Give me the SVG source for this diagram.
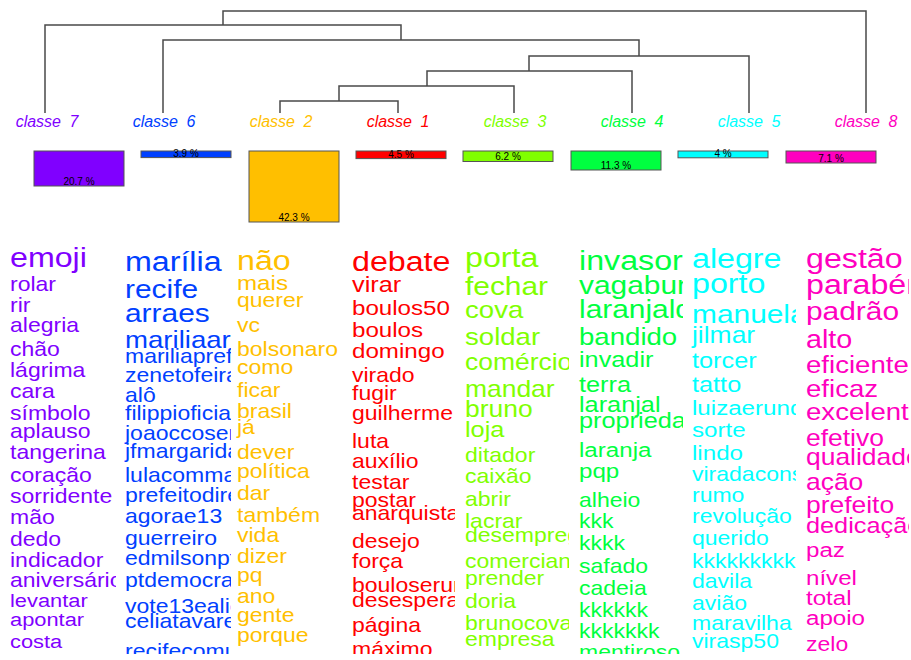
<svg xmlns="http://www.w3.org/2000/svg" width="911" height="660" viewBox="0 0 911 660">
<style>
text{font-family:"Liberation Sans",Arial,sans-serif}
.lbl{font-size:16px;font-style:italic;text-anchor:middle;word-spacing:4px}
.pct{font-size:10px;text-anchor:middle;fill:#000}
.bar{stroke:#555;stroke-width:1}
.k1{fill:#FF0000}.k2{fill:#FFBF00}.k3{fill:#80FF00}.k4{fill:#00FF40}
.k5{fill:#00FFFF}.k6{fill:#0040FF}.k7{fill:#8000FF}.k8{fill:#FF00BF}
.den{fill:none;stroke:#4a4a4a;stroke-width:1.5}
</style>
<defs>
<clipPath id="cp7"><rect x="8" y="235" width="108" height="419"/></clipPath>
<clipPath id="cp6"><rect x="123" y="235" width="108" height="419"/></clipPath>
<clipPath id="cp2"><rect x="235" y="235" width="108" height="419"/></clipPath>
<clipPath id="cp1"><rect x="350" y="235" width="105" height="419"/></clipPath>
<clipPath id="cp3"><rect x="463" y="235" width="106" height="419"/></clipPath>
<clipPath id="cp4"><rect x="577" y="235" width="106" height="419"/></clipPath>
<clipPath id="cp5"><rect x="690" y="235" width="106" height="419"/></clipPath>
<clipPath id="cp8"><rect x="804" y="235" width="105" height="419"/></clipPath>
</defs>
<rect width="911" height="660" fill="#fff"/>
<g id="connectors" class="den">
<path d="M223 25V11H866V113"/>
<path d="M45 113V25H401V40"/>
<path d="M163 113V40H639V56"/>
<path d="M749 113V56H529V71"/>
<path d="M632 113V71H427V86"/>
<path d="M514 113V86H339V101"/>
<path d="M280 113V101H398V113"/>
</g>
<g id="class7">
<text class="lbl k7" x="47" y="127">classe 7</text>
<rect class="bar k7" x="34" y="151" width="90" height="35"/>
<text class="pct" x="79" y="185">20.7 %</text>
<g clip-path="url(#cp7)"><g class="k7" transform="translate(10 0) scale(1.15 1)">
<text y="267" font-size="28">emoji</text>
<text y="291" font-size="20">rolar</text>
<text y="312" font-size="20">rir</text>
<text y="332" font-size="20">alegria</text>
<text y="356" font-size="20">chão</text>
<text y="377" font-size="20">lágrima</text>
<text y="398" font-size="20">cara</text>
<text y="420" font-size="20">símbolo</text>
<text y="438" font-size="20">aplauso</text>
<text y="459" font-size="20">tangerina</text>
<text y="482" font-size="20">coração</text>
<text y="503" font-size="20">sorridente</text>
<text y="524" font-size="20">mão</text>
<text y="546" font-size="20">dedo</text>
<text y="567" font-size="20">indicador</text>
<text y="587" font-size="20">aniversário</text>
<text y="607" font-size="19">levantar</text>
<text y="626" font-size="19">apontar</text>
<text y="648" font-size="19">costa</text>
</g></g>
</g>
<g id="class6">
<text class="lbl k6" x="164" y="127">classe 6</text>
<rect class="bar k6" x="141" y="151" width="90" height="6.6"/>
<text class="pct" x="186" y="157">3.9 %</text>
<g clip-path="url(#cp6)"><g class="k6" transform="translate(125 0) scale(1.15 1)">
<text y="271" font-size="28">marília</text>
<text y="298" font-size="26">recife</text>
<text y="322" font-size="26">arraes</text>
<text y="348" font-size="24">mariliaarraes</text>
<text y="363" font-size="20">mariliaprefeita</text>
<text y="382" font-size="20">zenetofeira</text>
<text y="402" font-size="20">alô</text>
<text y="420" font-size="20">filippioficial</text>
<text y="440" font-size="20">joaoccosentino</text>
<text y="458" font-size="20">jfmargarida</text>
<text y="482" font-size="20">lulacommander</text>
<text y="502" font-size="20">prefeitodireita</text>
<text y="523" font-size="20">agorae13</text>
<text y="545" font-size="20">guerreiro</text>
<text y="565" font-size="20">edmilsonpt</text>
<text y="587" font-size="20">ptdemocrata</text>
<text y="613" font-size="20">vote13ealice</text>
<text y="628" font-size="20">celiatavares</text>
<text y="658" font-size="20">recifecomunista</text>
</g></g>
</g>
<g id="class2">
<text class="lbl k2" x="281" y="127">classe 2</text>
<rect class="bar k2" x="249" y="151" width="90" height="71"/>
<text class="pct" x="294" y="221">42.3 %</text>
<g clip-path="url(#cp2)"><g class="k2" transform="translate(237 0) scale(1.15 1)">
<text y="270" font-size="28">não</text>
<text y="290" font-size="21">mais</text>
<text y="307" font-size="20">querer</text>
<text y="332" font-size="20">vc</text>
<text y="356" font-size="20">bolsonaro</text>
<text y="374" font-size="20">como</text>
<text y="397" font-size="20">ficar</text>
<text y="418" font-size="20">brasil</text>
<text y="434" font-size="20">já</text>
<text y="459" font-size="20">dever</text>
<text y="478" font-size="20">política</text>
<text y="500" font-size="20">dar</text>
<text y="522" font-size="20">também</text>
<text y="542" font-size="20">vida</text>
<text y="563" font-size="20">dizer</text>
<text y="582" font-size="20">pq</text>
<text y="603" font-size="20">ano</text>
<text y="622" font-size="20">gente</text>
<text y="642" font-size="20">porque</text>
</g></g>
</g>
<g id="class1">
<text class="lbl k1" x="398" y="127">classe 1</text>
<rect class="bar k1" x="356" y="151" width="90" height="7.6"/>
<text class="pct" x="401" y="158">4.5 %</text>
<g clip-path="url(#cp1)"><g class="k1" transform="translate(352 0) scale(1.15 1)">
<text y="271" font-size="28">debate</text>
<text y="292" font-size="22">virar</text>
<text y="315" font-size="21">boulos50</text>
<text y="337" font-size="21">boulos</text>
<text y="358" font-size="21">domingo</text>
<text y="382" font-size="20">virado</text>
<text y="400" font-size="20">fugir</text>
<text y="420" font-size="20">guilherme</text>
<text y="448" font-size="20">luta</text>
<text y="468" font-size="20">auxílio</text>
<text y="489" font-size="20">testar</text>
<text y="507" font-size="20">postar</text>
<text y="520" font-size="20">anarquista</text>
<text y="548" font-size="20">desejo</text>
<text y="568" font-size="20">força</text>
<text y="592" font-size="20">bouloserundina</text>
<text y="607" font-size="20">desesperado</text>
<text y="632" font-size="20">página</text>
<text y="656" font-size="20">máximo</text>
</g></g>
</g>
<g id="class3">
<text class="lbl k3" x="515" y="127">classe 3</text>
<rect class="bar k3" x="463" y="151" width="90" height="10.5"/>
<text class="pct" x="508" y="160">6.2 %</text>
<g clip-path="url(#cp3)"><g class="k3" transform="translate(465 0) scale(1.15 1)">
<text y="267" font-size="28">porta</text>
<text y="295" font-size="26">fechar</text>
<text y="318" font-size="24">cova</text>
<text y="345" font-size="24">soldar</text>
<text y="370" font-size="23">comércio</text>
<text y="397" font-size="23">mandar</text>
<text y="417" font-size="23">bruno</text>
<text y="437" font-size="22">loja</text>
<text y="462" font-size="20">ditador</text>
<text y="483" font-size="20">caixão</text>
<text y="506" font-size="20">abrir</text>
<text y="528" font-size="20">lacrar</text>
<text y="542" font-size="20">desemprego</text>
<text y="568" font-size="20">comerciante</text>
<text y="585" font-size="20">prender</text>
<text y="608" font-size="20">doria</text>
<text y="630" font-size="20">brunocova</text>
<text y="646" font-size="20">empresa</text>
</g></g>
</g>
<g id="class4">
<text class="lbl k4" x="632" y="127">classe 4</text>
<rect class="bar k4" x="571" y="151" width="90" height="19"/>
<text class="pct" x="616" y="169">11.3 %</text>
<g clip-path="url(#cp4)"><g class="k4" transform="translate(579 0) scale(1.15 1)">
<text y="270" font-size="28">invasor</text>
<text y="294" font-size="26">vagabundo</text>
<text y="318" font-size="26">laranjaldo</text>
<text y="345" font-size="24">bandido</text>
<text y="367" font-size="22">invadir</text>
<text y="392" font-size="22">terra</text>
<text y="412" font-size="22">laranjal</text>
<text y="428" font-size="22">propriedade</text>
<text y="457" font-size="21">laranja</text>
<text y="478" font-size="21">pqp</text>
<text y="507" font-size="20">alheio</text>
<text y="528" font-size="20">kkk</text>
<text y="550" font-size="20">kkkk</text>
<text y="573" font-size="20">safado</text>
<text y="595" font-size="20">cadeia</text>
<text y="617" font-size="20">kkkkkk</text>
<text y="638" font-size="20">kkkkkkk</text>
<text y="659" font-size="20">mentiroso</text>
</g></g>
</g>
<g id="class5">
<text class="lbl k5" x="749" y="127">classe 5</text>
<rect class="bar k5" x="678" y="151" width="90" height="6.8"/>
<text class="pct" x="723" y="157">4 %</text>
<g clip-path="url(#cp5)"><g class="k5" transform="translate(692 0) scale(1.15 1)">
<text y="268" font-size="28">alegre</text>
<text y="293" font-size="28">porto</text>
<text y="323" font-size="26">manuela</text>
<text y="343" font-size="23">jilmar</text>
<text y="368" font-size="22">torcer</text>
<text y="392" font-size="22">tatto</text>
<text y="415" font-size="21">luizaerundina</text>
<text y="437" font-size="21">sorte</text>
<text y="460" font-size="21">lindo</text>
<text y="481" font-size="20">viradaconsciente</text>
<text y="502" font-size="20">rumo</text>
<text y="523" font-size="20">revolução</text>
<text y="545" font-size="20">querido</text>
<text y="568" font-size="20">kkkkkkkkk</text>
<text y="588" font-size="20">davila</text>
<text y="610" font-size="20">avião</text>
<text y="630" font-size="20">maravilha</text>
<text y="648" font-size="20">virasp50</text>
</g></g>
</g>
<g id="class8">
<text class="lbl k8" x="866" y="127">classe 8</text>
<rect class="bar k8" x="786" y="151" width="90" height="12"/>
<text class="pct" x="831" y="162">7.1 %</text>
<g clip-path="url(#cp8)"><g class="k8" transform="translate(806 0) scale(1.15 1)">
<text y="268" font-size="28">gestão</text>
<text y="294" font-size="28">parabéns</text>
<text y="320" font-size="26">padrão</text>
<text y="348" font-size="25">alto</text>
<text y="373" font-size="24">eficiente</text>
<text y="397" font-size="24">eficaz</text>
<text y="420" font-size="24">excelente</text>
<text y="446" font-size="23">efetivo</text>
<text y="465" font-size="23">qualidade</text>
<text y="490" font-size="23">ação</text>
<text y="513" font-size="23">prefeito</text>
<text y="533" font-size="22">dedicação</text>
<text y="557" font-size="21">paz</text>
<text y="585" font-size="21">nível</text>
<text y="605" font-size="21">total</text>
<text y="625" font-size="21">apoio</text>
<text y="651" font-size="20">zelo</text>
</g></g>
</g>
</svg>
